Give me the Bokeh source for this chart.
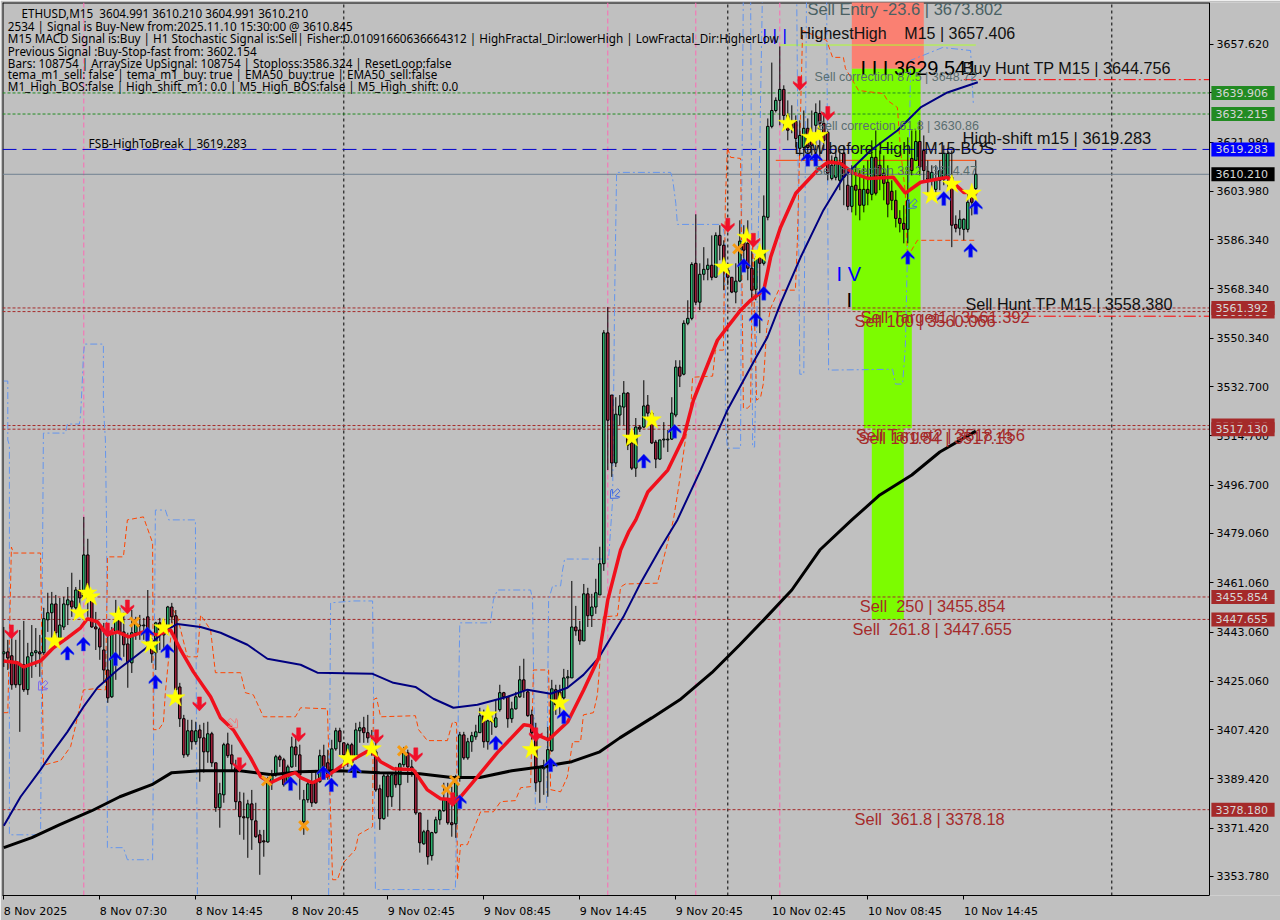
import math
from bokeh.plotting import figure
from bokeh.embed import file_html
from bokeh.resources import INLINE
from bokeh.models import Range1d, LinearAxis, FixedTicker, ColumnDataSource
from bokeh.core.properties import value

sides = ("GRRRGRGGGR" "GGGRGGGRGR" "GRRRRRRGGR" "RRGGGGRRGR" "GGRRRRGRGR" "RGRRGGRRRR" "RGRRRRGGGR" "RGGRRGGRRG"
         "RRGGRRGRGG" "RRGRRGRGRG" "GRRRRGRGGG" "GRRGGRGGGG" "RGRGGRRGGG" "RRRRGGGGRR" "GGGRRGRGGG" "GRRGGGRRGR"
         "GRRRGGGGGR" "GGGRGGGRGR" "RRRGGRRRGR" "GGGGGRRRRG" "GRRGRRRGGG" "RRGRRGRGRR" "RRRRRRGRGR" "RRGGGGGRRG" "GGRG")

tops = [3435.8,3435.8,3434.4,3432.2,3431.1,3431.1,3434.0,3435.5,3436.2,3435.8,
3447.9,3450.1,3453.3,3453.3,3445.6,3453.3,3454.8,3454.4,3458.4,3458.4,
3471.2,3471.2,3455.9,3444.9,3444.2,3436.5,3429.2,3442.8,3447.5,3447.5,
3443.1,3438.7,3442.8,3446.0,3445.6,3445.6,3448.6,3438.4,3446.4,3446.4,
3444.9,3452.2,3452.2,3449.0,3423.0,3411.4,3407.0,3407.0,3407.0,3407.3,
3404.4,3405.9,3405.9,3395.3,3384.0,3401.9,3402.2,3398.2,3393.5,3381.1,
3375.6,3380.3,3380.3,3374.1,3369.0,3366.8,3388.0,3390.9,3397.5,3397.5,
3396.4,3393.8,3401.1,3401.1,3398.2,3381.8,3387.6,3387.6,3388.4,3397.9,
3397.9,3395.3,3400.4,3407.0,3407.0,3402.6,3401.9,3401.9,3407.3,3408.1,
3408.1,3406.3,3401.9,3399.3,3385.8,3390.5,3390.5,3390.9,3390.9,3394.9,
3398.9,3398.9,3393.8,3391.6,3377.0,3370.1,3370.5,3369.8,3374.5,3377.8,
3381.8,3381.8,3373.4,3388.0,3405.5,3405.5,3403.0,3405.2,3406.6,3412.5,
3412.5,3410.6,3411.0,3411.7,3420.9,3420.9,3419.4,3415.0,3419.4,3425.6,
3425.6,3421.2,3412.8,3405.5,3393.5,3393.8,3400.1,3422.3,3422.0,3421.2,
3426.3,3426.7,3444.9,3444.9,3443.8,3457.0,3457.0,3452.2,3457.4,3468.0,
3552.3,3552.3,3529.6,3522.6,3525.6,3530.3,3530.3,3512.1,3517.9,3517.9,
3525.6,3525.9,3523.0,3512.4,3513.2,3513.5,3513.5,3523.0,3539.8,3539.8,
3555.8,3557.6,3577.3,3577.7,3573.7,3575.5,3577.0,3577.0,3587.9,3587.9,
3584.3,3575.2,3572.6,3571.2,3585.8,3585.8,3585.0,3575.9,3579.5,3580.6,
3594.9,3627.7,3633.5,3637.2,3641.2,3641.2,3631.7,3629.5,3629.5,3624.4,
3627.0,3627.0,3624.4,3632.8,3632.4,3628.8,3625.5,3613.5,3616.4,3614.2,
3617.8,3606.2,3605.8,3606.2,3604.7,3604.7,3604.7,3616.4,3616.4,3613.5,
3610.6,3607.3,3604.0,3600.7,3594.1,3592.3,3600.7,3616.0,3622.2,3622.2,
3618.9,3611.3,3610.9,3608.4,3611.6,3617.8,3617.8,3609.1,3591.9,3593.8,
3593.8,3600.0,3601.8,3610.21]

bottoms = [3435.1,3433.6,3423.8,3423.8,3423.8,3422.0,3422.0,3434.4,3435.5,3435.1,
3435.5,3447.5,3450.1,3442.8,3440.9,3444.9,3453.0,3452.2,3451.9,3455.5,
3455.9,3455.5,3444.9,3444.2,3437.6,3429.2,3419.0,3419.4,3443.1,3443.1,
3438.4,3432.2,3431.8,3442.8,3445.3,3445.3,3438.4,3435.1,3435.5,3443.8,
3442.0,3444.9,3448.6,3422.0,3411.4,3398.2,3398.2,3403.0,3403.0,3404.4,
3399.3,3399.3,3395.3,3378.9,3378.9,3383.6,3397.9,3394.9,3381.1,3375.6,
3375.2,3375.2,3374.5,3368.3,3366.1,3366.4,3366.4,3388.0,3390.9,3396.4,
3387.3,3388.4,3393.8,3398.2,3390.9,3373.8,3381.8,3380.7,3380.7,3388.4,
3393.8,3390.2,3392.7,3400.4,3403.0,3398.2,3395.3,3395.3,3397.5,3407.0,
3406.3,3404.4,3399.3,3385.4,3374.9,3374.9,3382.9,3382.9,3387.3,3387.3,
3394.6,3393.8,3392.7,3377.0,3366.1,3365.7,3361.0,3361.4,3369.8,3374.5,
3377.8,3373.4,3372.7,3373.0,3390.2,3397.1,3397.1,3403.0,3404.8,3406.3,
3403.0,3403.0,3410.3,3408.4,3414.7,3419.4,3411.4,3411.4,3415.0,3419.4,
3421.6,3412.5,3406.3,3388.0,3388.4,3393.1,3393.5,3399.7,3416.5,3418.3,
3419.0,3426.3,3426.3,3443.5,3439.8,3439.8,3449.0,3449.0,3452.2,3456.6,
3468.0,3520.4,3504.8,3504.8,3522.3,3525.2,3511.3,3502.9,3502.9,3517.2,
3517.9,3523.0,3512.1,3506.2,3506.2,3513.2,3513.2,3513.5,3522.3,3536.5,
3537.2,3555.8,3557.6,3563.5,3563.5,3573.7,3575.5,3572.6,3572.6,3584.3,
3576.3,3572.6,3567.2,3567.2,3571.2,3582.5,3575.9,3567.9,3568.2,3577.7,
3577.7,3594.5,3627.7,3633.5,3637.2,3631.7,3626.3,3627.0,3623.3,3619.7,
3620.0,3620.0,3620.8,3628.1,3628.8,3622.6,3610.6,3608.7,3609.1,3608.0,
3609.1,3598.5,3598.5,3604.4,3598.9,3598.9,3603.3,3602.9,3603.3,3609.8,
3606.9,3599.3,3600.7,3594.1,3592.3,3590.1,3590.1,3611.6,3615.3,3612.8,
3611.6,3608.4,3608.0,3604.7,3608.0,3608.4,3609.1,3591.6,3590.5,3590.5,
3590.1,3590.1,3600.0,3604.99]

highs = [3444.9,3440.2,3442.0,3440.2,3443.8,3447.1,3439.1,3445.6,3444.5,3442.0,
3451.9,3457.4,3457.7,3456.6,3455.5,3455.9,3459.5,3464.7,3459.5,3462.1,
3485.1,3477.1,3458.4,3450.4,3444.9,3446.4,3444.9,3444.9,3454.8,3451.9,
3450.1,3442.8,3451.1,3448.6,3449.3,3448.2,3458.4,3440.9,3446.8,3448.2,
3447.5,3452.6,3453.7,3451.1,3424.5,3412.8,3411.0,3411.0,3410.3,3409.2,
3409.9,3410.3,3406.6,3395.3,3388.0,3402.6,3406.3,3401.9,3396.4,3384.7,
3384.4,3381.8,3385.4,3380.7,3370.8,3370.8,3390.2,3392.7,3398.2,3398.2,
3397.1,3394.6,3404.8,3404.8,3401.9,3385.4,3388.7,3392.0,3392.7,3400.1,
3401.9,3400.1,3403.7,3408.1,3408.1,3402.6,3402.6,3402.6,3409.9,3410.3,
3412.1,3412.8,3407.3,3404.4,3387.3,3391.6,3391.6,3391.6,3393.8,3395.3,
3401.1,3400.1,3396.4,3392.7,3377.0,3370.8,3374.5,3370.1,3375.6,3378.2,
3388.0,3388.0,3386.6,3390.9,3406.6,3406.6,3404.4,3406.6,3409.2,3415.4,
3414.7,3411.0,3412.8,3418.3,3423.8,3421.2,3419.4,3417.6,3421.2,3430.7,
3433.3,3422.0,3414.7,3409.9,3393.8,3396.4,3408.4,3425.6,3423.8,3423.8,
3429.6,3429.2,3461.7,3452.6,3447.1,3460.6,3459.2,3457.0,3462.5,3474.2,
3553.3,3561.7,3529.6,3528.8,3529.6,3534.7,3530.7,3514.3,3521.2,3518.6,
3535.0,3529.6,3523.4,3513.2,3513.2,3519.7,3516.8,3528.8,3542.3,3542.3,
3556.9,3564.2,3578.1,3595.6,3577.7,3583.6,3579.5,3587.9,3589.0,3591.6,
3586.1,3577.7,3572.6,3577.7,3593.4,3591.6,3593.4,3582.5,3580.3,3581.4,
3602.5,3630.6,3651.0,3638.3,3656.9,3642.7,3637.2,3635.4,3631.7,3629.9,
3633.5,3630.6,3633.5,3636.1,3637.2,3632.8,3626.2,3617.1,3618.9,3618.9,
3620.8,3611.7,3613.5,3613.5,3611.7,3613.5,3615.3,3622.6,3626.2,3618.9,
3617.1,3613.5,3608.0,3604.4,3597.1,3598.9,3623.7,3626.2,3626.2,3629.9,
3624.4,3615.3,3613.5,3613.5,3615.3,3620.8,3619.7,3618.9,3595.2,3597.1,
3594.1,3603.3,3604.4,3615.3]

lows = [3430.3,3429.2,3422.0,3422.7,3406.6,3421.2,3420.1,3426.3,3430.3,3426.7,
3434.7,3443.1,3440.9,3439.1,3439.5,3443.8,3445.6,3448.6,3451.1,3450.4,
3455.5,3448.6,3444.6,3436.5,3432.9,3424.5,3417.2,3419.0,3425.6,3432.9,
3434.0,3422.7,3428.1,3440.2,3440.2,3440.2,3436.5,3431.8,3429.2,3436.5,
3436.5,3442.0,3446.4,3419.4,3408.4,3397.1,3397.5,3400.1,3401.9,3388.4,
3391.7,3395.3,3393.8,3377.4,3371.6,3380.7,3397.1,3392.7,3378.2,3369.0,
3367.2,3360.6,3363.5,3367.9,3354.4,3361.0,3366.1,3385.4,3390.2,3393.8,
3386.6,3388.0,3393.5,3393.8,3381.8,3369.0,3380.7,3379.2,3380.3,3388.0,
3390.2,3389.1,3390.2,3399.7,3398.2,3397.1,3393.8,3392.7,3396.4,3402.6,
3402.6,3402.6,3397.9,3384.7,3370.8,3374.5,3375.6,3379.2,3386.2,3377.8,
3393.8,3388.0,3390.2,3376.3,3362.5,3365.4,3358.1,3359.6,3369.4,3372.7,
3377.4,3372.7,3368.3,3367.9,3388.4,3396.4,3396.4,3399.3,3403.7,3406.3,
3400.8,3400.1,3405.5,3408.1,3414.0,3418.3,3408.1,3409.9,3414.7,3419.0,
3419.0,3412.1,3403.7,3384.7,3380.7,3383.6,3382.9,3399.3,3412.8,3412.8,
3418.3,3422.7,3426.3,3441.7,3438.4,3439.8,3444.9,3444.9,3449.7,3456.6,
3465.4,3502.2,3499.7,3503.3,3518.6,3518.6,3509.5,3502.2,3499.7,3516.1,
3517.5,3521.2,3511.7,3502.9,3505.9,3510.4,3508.8,3513.2,3521.5,3532.5,
3536.8,3555.1,3556.9,3562.4,3560.6,3571.5,3571.5,3571.5,3572.6,3578.8,
3567.9,3569.7,3566.8,3563.1,3570.8,3577.0,3571.5,3564.2,3564.2,3552.2,
3576.9,3593.4,3627.0,3632.8,3628.1,3626.3,3622.6,3625.2,3620.0,3617.1,
3615.3,3613.5,3617.1,3618.9,3615.3,3618.9,3608.0,3608.0,3608.0,3604.4,
3598.9,3597.1,3596.3,3595.2,3593.4,3596.3,3598.9,3600.7,3602.5,3604.4,
3600.7,3594.5,3597.1,3590.8,3589.0,3585.0,3585.0,3609.8,3615.3,3609.8,
3608.0,3602.5,3604.4,3602.5,3604.4,3606.2,3605.5,3583.6,3589.0,3587.9,
3586.1,3589.0,3595.2,3602.2]

black_idx = [0,7,14,22,29,37,42,49,59,67,74,84,94,104,112,119,127,134,142,149,154,162,169,177,184,190,197,204,212,219,227,234,243]
black_val = [3364.3,3368.0,3372.7,3377.8,3382.9,3387.3,3391.7,3392.4,3392.4,3390.9,3392.0,3392.4,3391.7,3391.3,3389.9,3389.9,3392.4,3393.8,3395.7,3399.3,3404.4,3411.7,3418.3,3428.2,3438.4,3447.5,3458.4,3473.0,3484.0,3493.1,3500.4,3508.8,3516.4]

navy_idx = [0,4.2,9.2,11.7,15.9,19.9,23.4,28.4,32.4,35.9,39.9,43.4,49.2,54.2,60.9,65.9,74.2,78.4,92.2,97.4,102.9,107.4,112.4,118.4,125.9,130.9,136.7,140.9,144.9,148.7,154.9,159.2,164.2,168.4,174.2,180.9,187.4,190.9,194.2,199.2,204.9,209.9,216.7,223.4,229.2,235.9,243.5]
navy_val = [3372.3,3382.9,3392.8,3398.2,3406.6,3415.7,3422.7,3429.2,3433.6,3437.6,3443.1,3446.0,3444.9,3442.8,3438.4,3433.3,3431.1,3428.2,3427.8,3424.5,3423.0,3418.7,3415.4,3416.5,3419.4,3422.0,3420.5,3422.7,3427.4,3433.6,3448.6,3461.0,3473.8,3484.0,3502.2,3524.1,3541.6,3550.7,3563.1,3579.9,3597.1,3609.1,3618.9,3626.2,3634.6,3640.1,3643.8]

red_idx = [0,3.4,5,9.2,12.4,15.9,19.2,20.9,23.4,25.9,28.4,31.2,34.9,38.4,41.7,44.2,47.4,51.7,54.2,57.4,61.7,64.2,66.7,69.9,72.9,74.2,77.2,81.2,84.9,91.7,94.2,97.4,102.4,105.9,109.2,112.2,114.2,118.4,123.4,130,131.7,133.4,136.2,141,145,148.7,151,154.2,156.2,158,161,166,170,172.4,178.4,180.9,184.2,186.7,190,191.7,194.2,198,203.4,206,209.2,212.4,216,222.4,225.4,229.2,235.9,240,243.4]
red_val = [3432.5,3431.8,3430.3,3432.5,3437.3,3440.9,3444.6,3447.9,3446.8,3442.0,3443.1,3441.3,3443.1,3442.0,3443.8,3436.5,3428.5,3419.4,3411.7,3407.3,3397.1,3390.2,3388.0,3390.2,3391.7,3389.9,3388.0,3390.9,3394.6,3400.1,3395.7,3393.1,3392.8,3385.4,3382.2,3381.8,3382.9,3390.2,3399.0,3409.2,3408.8,3405.5,3403.7,3410.3,3422.0,3433.6,3454.8,3473.0,3479.6,3484.0,3494.2,3502.2,3514.3,3527.7,3549.6,3554.4,3560.6,3564.2,3567.9,3579.9,3590.9,3603.3,3611.7,3614.6,3614.2,3610.6,3608.7,3609.1,3603.3,3607.3,3609.1,3603.6,3603.6]

blue_idx = [0,1,1,1.4,1.4,1.9,9.2,9.9,15.4,15.9,18.9,19.2,19.7,19.9,20.2,24.9,24.9,25.4,25.7,25.9,29.9,30.9,37.2,37.9,40.4,41.2,47.9,48.4,81.2,81.7,87.4,92.2,92.9,112.9,114,121.7,122.4,123.4,131.7,132.2,132.9,135.7,136.2,137.2,139.2,139.7,140.2,151.2,152.2,152.7,153.2,166.7,167.2,168,168.4,179.7,180.4,180.4,180.9,184.2,184.4,184.9,186.7,187.2,187.7,189.7,198.2,199,200,200.7,205.7,206.2,222.2,222.9,224.7,225.4,226.2,226.7,234.7,241.7,242.4]
blue_val = [3534.7,3534.7,3513.2,3511.3,3369.0,3369.0,3369.0,3515.7,3515.7,3519.0,3519.0,3522.3,3536.9,3544.2,3548.2,3548.2,3525.2,3513.2,3480.3,3364.3,3364.3,3359.9,3359.9,3487.6,3487.6,3484.0,3484.0,3345.0,3345.0,3453.7,3454.4,3454.4,3349.0,3349.0,3446.4,3446.4,3454.8,3458.4,3458.4,3454.8,3378.2,3378.2,3454.8,3459.9,3459.9,3465.7,3469.7,3469.7,3491.3,3564.2,3610.9,3610.9,3608.7,3599.6,3591.9,3591.9,3586.1,3520.1,3510.2,3510.2,3586.1,3680.0,3680.0,3510.6,3510.6,3680.0,3680.0,3537.2,3537.2,3680.0,3680.0,3538.7,3539.0,3533.6,3533.6,3547.8,3600.7,3651.8,3656.5,3655.4,3635.4]

orange_idx = [0,1,1.9,2.4,9.2,9.9,10.4,14.2,16.7,17.9,19.9,22.4,25.4,25.9,25.9,29.9,30.9,34.9,37.2,37.4,38.7,39.9,40.4,42.4,43.4,45.9,48.4,49.2,51.7,52.9,59.2,60.4,62.4,64.9,72.9,74.2,80.9,82.2,83.4,84.9,87.9,88.7,92.2,92.4,93.2,94.2,102.9,103.7,105.9,110.9,112.2,113.2,113.4,114.2,115.9,117.4,119.2,122.4,124.2,127.9,129.2,131.7,132.4,136.2,136.7,139.2,140.9,142.2,144.2,144.9,147.4,148.4,149.9,153.4,154.2,155.4,163.4,167.4,168.7,170.4,171.7,172.2,177.2,177.9,179.9,180.4,180.9,181.7,184.2,184.9,185.9,186.7,187.2,188.2,189.2,189.9,190.7,191.7,193.7,197.9,198.4,199.7,205.7,207.2,209.9,210.4,213.7,219.9,220.9,223.4,224.2,225.4,225.9,228.4,242.9]
orange_val = [3413.6,3413.6,3474.1,3471.9,3471.9,3395.3,3394.6,3396.1,3401.2,3408.5,3421.9,3422.3,3421.9,3464.6,3470.5,3470.5,3484.0,3485.1,3475.6,3407.4,3407.4,3409.9,3421.2,3451.1,3448.6,3434.0,3434.0,3449.3,3443.8,3428.2,3428.2,3420.9,3420.1,3412.1,3412.1,3415.4,3415.0,3352.6,3352.6,3358.8,3363.6,3369.1,3372.0,3418.3,3419.0,3412.1,3412.5,3407.4,3403.4,3403.4,3410.3,3409.9,3352.6,3365.4,3365.4,3370.9,3377.4,3377.4,3381.1,3381.5,3386.2,3386.6,3429.2,3429.2,3385.5,3384.7,3390.2,3403.0,3403.0,3412.8,3413.6,3420.1,3448.6,3449.0,3459.5,3460.6,3460.9,3484.0,3496.0,3513.2,3524.1,3536.1,3536.5,3546.0,3546.0,3600.7,3620.0,3616.4,3616.0,3524.8,3524.8,3525.9,3586.1,3527.7,3528.8,3533.9,3553.3,3561.3,3567.9,3567.9,3586.1,3662.7,3659.1,3652.9,3652.9,3648.9,3640.8,3639.7,3637.2,3634.6,3618.9,3603.3,3579.9,3586.1,3586.1]

star_idx = [12.7,18.9,20.9,21.7,28.7,36.7,39.9,42.9,86,92,121,132,139,157,162,180,185.7,189,196,201.7,203.7,232,237,242]
star_val = [3439.8,3450.1,3457.3,3455.9,3448.9,3438.4,3444.6,3419.0,3396.8,3400.4,3412.8,3400.1,3417.2,3513.9,3520.5,3576.3,3587.2,3581.4,3628.8,3623.7,3624.4,3602.5,3606.6,3603.3]
up_idx = [15.9,19.9,27.9,35.9,40.9,37.9,71.7,79.9,81.9,87.7,114,123,136.7,140,160,167.7,185,188,190,201,203,226,235,241.7,243]
up_val = [3435.4,3438.7,3433.3,3442.4,3436.2,3424.9,3387.7,3391.7,3387.3,3392.4,3381.1,3402.6,3394.6,3412.1,3505.5,3516.4,3577.0,3557.3,3566.8,3615.7,3615.7,3579.9,3601.4,3582.5,3598.2]
down_idx = [1.9,25.9,30.9,48.9,58.9,73.7,93.2,103,112.2,133,181,187.4,199,206]
down_val = [3443.1,3443.8,3452.2,3416.8,3394.6,3405.5,3404.8,3398.2,3381.8,3405.5,3591.6,3586.1,3643.4,3632.4]
cross_idx = [32.7,65.7,75,99.7,110.7,112.7,183.5]
cross_val = [3446.7,3388.7,3372.3,3399.7,3385.5,3388.8,3583.0]
hollow_idx = [9.7,152.7,227,57.4]
hollow_val = [3423.4,3493.4,3599.3,3409.6]
hollow_col = ["#7B68EE","#4169E1","#4169E1","#F08080"]
hollow_turn = [135,135,135,225]

level_val = [3561.392,3560.066,3518.456,3517.13,3455.854,3447.655,3378.18]
green_val = [3639.906,3632.215]
fsb_val = 3619.283
bid_val = 3610.21
hunt_val = [3644.756,3558.38]
vblack = [85,181,277]
vpink = [20,151,173,194]

price_ticks = [3657.62,3639.98,3621.98,3603.98,3586.34,3568.34,3550.34,3532.7,3514.7,3496.7,3479.06,3461.06,3443.06,3425.06,3407.42,3389.42,3371.42,3353.78]
time_ticks = [0,24,48,72,96,120,144,168,192,216,240]
time_labels = ["8 Nov 2025","8 Nov 07:30","8 Nov 14:45","8 Nov 20:45","9 Nov 02:45","9 Nov 08:45","9 Nov 14:45","9 Nov 20:45","10 Nov 02:45","10 Nov 08:45","10 Nov 14:45"]
label_half = [7.9,8.4,8.4,8.4,8.4,8.4,8.4,8.4,9.3,9.3,9.3]

tag_val = [3639.906,3632.215,3619.283,3610.21,3560.066,3561.392,3518.456,3517.13,3455.854,3447.655,3378.18]
tag_fill = ["#228B22","#228B22","#0000FF","#000000","#A52A2A","#A52A2A","#A52A2A","#A52A2A","#A52A2A","#A52A2A","#A52A2A"]

header_lines = ["ETHUSD,M15\u00a0\u00a03604.991 3610.210 3604.991 3610.210",
"2534 | Signal is Buy-New from:2025.11.10 15:30:00 @ 3610.845",
"M15 MACD Signal is:Buy | H1 Stochastic Signal is:Sell| Fisher:0.01091660636664312 | HighFractal_Dir:lowerHigh | LowFractal_Dir:HigherLow",
"Previous Signal :Buy-Stop-fast from: 3602.154",
"Bars: 108754 | ArraySize UpSignal: 108754 | Stoploss:3586.324 | ResetLoop:false",
"tema_m1_sell: false | tema_m1_buy: true | EMA50_buy:true | EMA50_sell:false",
"M1_High_BOS:false | High_shift_m1: 0.0 | M5_High_BOS:false | M5_High_shift: 0.0"]
header_idx = [4.4,1,1,1,1,1,1]
header_val = [3669.0,3664.2,3659.9,3655.4,3651.0,3646.7,3642.3]

note_txt = ["Sell Entry -23.6 | 3673.802","HighestHigh\u00a0\u00a0\u00a0\u00a0M15 | 3657.406","I I I 3629.541","Buy Hunt TP M15 | 3644.756",
"Sell correction 87.5 | 3648.72","Sell correction 61.8 | 3630.86","Sell correction 38.2 | 3614.47",
"Low before High | M15-BOS","High-shift m15 | 3619.283","Sell Hunt TP M15 | 3558.380",
"Sell Target1 | 3561.392","Sell 100 | 3560.066","Sell Target2 | 3518.456","Sell 161.84 | 3517.13",
"Sell\u00a0\u00a0250 | 3455.854","Sell\u00a0\u00a0261.8 | 3447.655","Sell\u00a0\u00a0361.8 | 3378.18","FSB-HighToBreak | 3619.283","I V","I","|","|","|"]
note_idx = [200.9,198.9,214.2,239.7,202.7,203.2,202.7,197.7,239.7,240.4,214.2,212.7,213,213.7,214,212.2,212.7,21.2,208.2,210.7,189.7,192.2,194.7]
note_val = [3670.4,3661.6,3648.9,3648.9,3645.6,3627.7,3611.3,3619.7,3623.3,3562.8,3558.0,3556.6,3515.0,3513.9,3452.6,3444.2,3374.9,3621.5,3573.7,3564.2,3660.9,3660.9,3660.9]
note_col = ["#4a6063","#111111","#000000","#111111","#5a6e70","#5a6e70","#5a6e70","#111111","#111111","#111111","#A52A2A","#A52A2A","#A52A2A","#A52A2A","#A52A2A","#A52A2A","#A52A2A","#000000","#0000FF","#000000","#0000FF","#0000FF","#0000FF"]
note_size = ["16.5px","16px","20px","16.2px","12.5px","12.5px","12.5px","16px","16.5px","16.2px","16.5px","16.4px","16.5px","16.4px","16.4px","16.4px","16.4px","11.8px","20px","20px","17px","17px","17px"]
note_font = ["Liberation Sans"]*17 + ["Noto Sans"] + ["Liberation Sans"]*5

band_left = [212,212,215,217]
band_right = [230,229.2,227,225]
band_top = [3690,3648.72,3560.6,3517.5]
band_bot = [3648.72,3560.6,3517.5,3447.655]
band_col = ["#FA8072","#7CFC00","#7CFC00","#7CFC00"]

BG = "#C0C0C0"
x_lo, x_hi = -0.325, 301.425     # the chart box
x_page = 319.175                 # the range also covers the strip with the price tags
y_lo, y_hi = 3346.84, 3672.94
DX = 0.25       # bar units per screen pixel
DY = 0.3648     # price units per screen pixel
ARROW = [(0, 7), (6.5, 0), (6.5, -2), (2, 1), (2, -7), (-2, -7), (-2, 1), (-6.5, -2), (-6.5, 0)]


def arrow_shapes(xs, ys, turn=0, scale=1.0):
    c, s = math.cos(math.radians(turn)), math.sin(math.radians(turn))
    out_x, out_y = [], []
    for x, y in zip(xs, ys):
        out_x.append([x + scale * (c * a - s * b) * DX for a, b in ARROW])
        out_y.append([y + scale * (s * a + c * b) * DY for a, b in ARROW])
    return out_x, out_y


p = figure(width=1280, height=920, output_backend="svg", toolbar_location=None,
           x_range=Range1d(x_lo, x_page), y_range=Range1d(y_lo, y_hi),
           x_axis_type=None, y_axis_type=None,
           min_border_left=2, min_border_top=2, min_border_right=0, min_border_bottom=24,
           background_fill_color=BG, border_fill_color=BG)
p.grid.visible = False
p.outline_line_color = None

ya = LinearAxis(ticker=FixedTicker(ticks=price_ticks), fixed_location=x_hi)
ya.major_label_overrides = {t: f"{t:.3f}" for t in price_ticks}
ya.major_tick_out = 4
ya.major_tick_in = 0
ya.minor_tick_out = 0
ya.minor_tick_in = 0
ya.major_label_standoff = 3
ya.axis_line_color = "black"
ya.major_label_text_color = "black"
ya.major_label_text_font = "DejaVu Sans"
ya.major_label_text_font_size = "11px"
p.add_layout(ya, "right")

label_pos = [t + h for t, h in zip(time_ticks, label_half)]
xl = LinearAxis(ticker=FixedTicker(ticks=label_pos, minor_ticks=time_ticks), bounds=(x_lo, x_hi))
xl.major_label_overrides = dict(zip(label_pos, time_labels))
xl.major_label_text_font = "DejaVu Sans"
xl.major_label_text_font_size = "11px"
xl.major_label_text_color = "black"
xl.major_label_standoff = 5
xl.major_tick_out = 0
xl.major_tick_in = 0
xl.minor_tick_out = 4
xl.minor_tick_in = 0
xl.minor_tick_line_color = "black"
xl.axis_line_color = "black"
p.add_layout(xl, "below")

p.segment(x0=[x_lo, x_lo], x1=[x_hi, x_lo], y0=[y_hi, y_lo], y1=[y_hi, y_hi], line_color="black", line_width=2)

p.quad(left=band_left, right=band_right, top=band_top, bottom=band_bot, fill_color=band_col, line_color=None)

p.segment(x0=vblack, x1=vblack, y0=[y_lo]*len(vblack), y1=[y_hi]*len(vblack), line_color="black", line_width=1, line_dash="3 3")
p.segment(x0=vpink, x1=vpink, y0=[y_lo]*len(vpink), y1=[y_hi]*len(vpink), line_color="#FF69B4", line_width=1, line_dash="5 3")

p.segment(x0=[x_lo]*len(level_val), x1=[x_hi]*len(level_val), y0=level_val, y1=level_val, line_color="#A52A2A", line_width=1, line_dash="3 2")
p.segment(x0=[x_lo]*len(green_val), x1=[x_hi]*len(green_val), y0=green_val, y1=green_val, line_color="#228B22", line_width=1, line_dash="3 2")
p.segment(x0=[x_lo], x1=[x_hi], y0=[fsb_val], y1=[fsb_val], line_color="#0000CD", line_width=1, line_dash="14 6")
p.segment(x0=[x_lo], x1=[x_hi], y0=[bid_val], y1=[bid_val], line_color="#708090", line_width=1)
p.segment(x0=[240, 240], x1=[x_hi, x_hi], y0=hunt_val, y1=hunt_val, line_color="#FF0000", line_width=1, line_dash="12 3 2 3")
p.segment(x0=[193], x1=[243], y0=[3615.3], y1=[3615.3], line_color="#FF4500", line_width=1)
p.segment(x0=[194], x1=[243], y0=[3657.406], y1=[3657.406], line_color="#ADFF2F", line_width=1)

p.line(blue_idx, blue_val, line_color="#6495ED", line_width=1, line_dash="7 3 2 3")
p.line(orange_idx, orange_val, line_color="#FF4500", line_width=1, line_dash="5 3")

idx = list(range(len(tops)))
opens = [b if s == "G" else t for s, t, b in zip(sides, tops, bottoms)]
closes = [t if s == "G" else b for s, t, b in zip(sides, tops, bottoms)]
fill = ["#2EB872" if s == "G" else "#A5203C" for s in sides]
src = ColumnDataSource(dict(i=idx, o=opens, h=highs, l=lows, c=closes, fill=fill))
p.segment(x0="i", x1="i", y0="l", y1="h", source=src, line_color="black", line_width=1)
p.vbar(x="i", width=0.62, top="o", bottom="c", source=src, fill_color="fill", line_color="black", line_width=1)

p.line(black_idx, black_val, line_color="black", line_width=3)
p.line(navy_idx, navy_val, line_color="#000080", line_width=2)
p.line(red_idx, red_val, line_color="#F0101C", line_width=3.5)

p.scatter(star_idx, star_val, marker="star", size=20, fill_color="#FFFF00", line_color="#FFFF00", line_width=0.5)
p.scatter(cross_idx, cross_val, marker="x", size=13, line_color="#F59A12", line_width=3, fill_color=None)

ux, uy = arrow_shapes(up_idx, up_val)
p.patches(ux, uy, fill_color="#0000F0", line_color="#4169E1", line_width=0.5)
dx, dy = arrow_shapes(down_idx, down_val, turn=180)
p.patches(dx, dy, fill_color="#F0102A", line_color="#F0102A", line_width=0.5)
for x, y, col, turn in zip(hollow_idx, hollow_val, hollow_col, hollow_turn):
    hx, hy = arrow_shapes([x], [y], turn=turn, scale=0.85)
    p.patches(hx, hy, fill_color=None, line_color=col, line_width=1)

p.text(x=note_idx, y=note_val, text=note_txt, text_color=note_col, text_font_size=note_size, text_font=note_font,
       text_align="left", text_baseline="middle")
p.text(x=header_idx, y=header_val, text=header_lines, text_color="black", text_font=value("Noto Sans"), text_font_size="11.7px",
       text_align="left", text_baseline="middle")

tag_half = 7 * DY
for v, col in zip(tag_val, tag_fill):
    p.quad(left=[301.9], right=[317.7], top=[v + tag_half], bottom=[v - tag_half], fill_color=col, line_color=None, level="overlay")
    p.text(x=[302.9], y=[v], text=[f"{v:.3f}"], text_color="#D6D6D6", text_font=value("DejaVu Sans"), text_font_size="11px",
           text_align="left", text_baseline="middle", level="overlay")

open("out.html", "w").write(file_html(p, INLINE))
